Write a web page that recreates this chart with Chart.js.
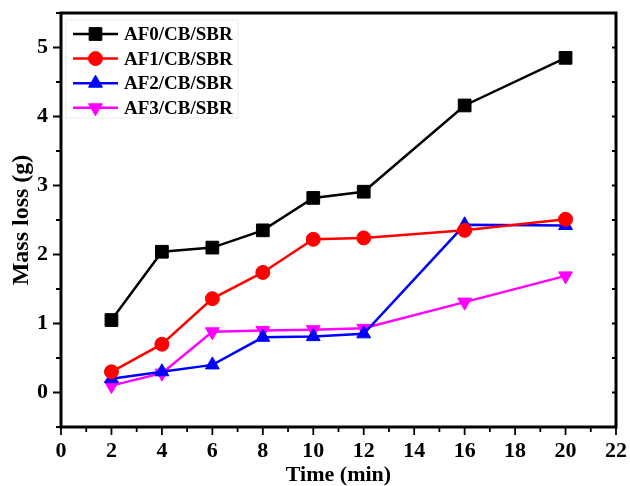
<!DOCTYPE html>
<html>
<head>
<meta charset="utf-8">
<script src="https://cdn.jsdelivr.net/npm/chart.js@4/dist/chart.umd.min.js"></script>
<style>
  html, body { margin: 0; padding: 0; background: #fff; }
  #wrap { width: 630px; height: 486px; }
</style>
</head>
<body>
<div id="wrap"><canvas id="chartCanvas" width="630" height="486"></canvas></div>
<script>
// time points (min)
var timeValues = [2, 4, 6, 8, 10, 12, 16, 20];
// mass loss (g) per sample
var af0Values = [1.05, 2.04, 2.10, 2.35, 2.82, 2.91, 4.16, 4.85];
var af1Values = [0.30, 0.70, 1.36, 1.74, 2.22, 2.24, 2.35, 2.51];
var af2Values = [0.20, 0.30, 0.40, 0.80, 0.81, 0.85, 2.43, 2.42];
var af3Values = [0.10, 0.28, 0.88, 0.90, 0.91, 0.93, 1.31, 1.69];
var seriesNames = ["AF0/CB/SBR", "AF1/CB/SBR", "AF2/CB/SBR", "AF3/CB/SBR"];
var xTickValues = [0, 2, 4, 6, 8, 10, 12, 14, 16, 18, 20, 22];
var yTickValues = [0, 1, 2, 3, 4, 5];

var serif = "'Liberation Serif', 'Times New Roman', serif";

function toPoints(values) {
    var pts = [];
    for (var i = 0; i < timeValues.length; i++) {
        pts.push({ x: timeValues[i], y: values[i] });
    }
    return pts;
}

function makeSet(name, values, color, style, rot, radius) {
    return {
        label: name,
        data: toPoints(values),
        borderColor: color,
        backgroundColor: color,
        borderWidth: 2.5,
        pointStyle: style,
        rotation: rot,
        pointRadius: radius,
        pointBorderWidth: 1,
        tension: 0
    };
}

//Plugin for the frame, tick marks and the legend box
var framePlugin = {
    id: "frame",
    afterDraw: function (chart) {
        var ctx = chart.ctx;
        var a = chart.chartArea;
        var xs = chart.scales.x;
        var ys = chart.scales.y;
        ctx.save();
        ctx.strokeStyle = "#000";
        ctx.lineWidth = 1.8;
        // x ticks (outward, bottom)
        for (var v = 0; v <= 22; v++) {
            var px = xs.getPixelForValue(v);
            var len = (v % 2 === 0) ? 8 : 5;
            ctx.beginPath();
            ctx.moveTo(px, a.bottom);
            ctx.lineTo(px, a.bottom + len);
            ctx.stroke();
        }
        // y ticks (outward on left, inward on right)
        for (var k = -0.5; k <= 5.5; k += 0.5) {
            var py = ys.getPixelForValue(k);
            var l2 = (k % 1 === 0) ? 8 : 5;
            ctx.beginPath();
            ctx.moveTo(a.left, py);
            ctx.lineTo(a.left - l2, py);
            ctx.moveTo(a.right, py);
            ctx.lineTo(a.right - 4, py);
            ctx.stroke();
        }
        // frame
        ctx.lineWidth = 3;
        ctx.strokeRect(a.left, a.top, a.right - a.left, a.bottom - a.top);

        // legend
        var lx = a.left + 5, ly = a.top + 7;
        ctx.lineWidth = 0.8;
        ctx.strokeStyle = "#e6e6e6";
        ctx.strokeRect(lx, ly, 172, 98);
        ctx.font = "bold 19px " + serif;
        ctx.textBaseline = "middle";
        ctx.textAlign = "left";
        chart.data.datasets.forEach(function (ds, i) {
            var rowY = ly + 14 + i * 24.6;
            ctx.strokeStyle = ds.borderColor;
            ctx.lineWidth = 2.5;
            ctx.beginPath();
            ctx.moveTo(lx + 7, rowY);
            ctx.lineTo(lx + 52, rowY);
            ctx.stroke();
            ctx.fillStyle = ds.backgroundColor;
            ctx.lineWidth = 1;
            Chart.helpers.drawPoint(ctx, {
                pointStyle: ds.pointStyle,
                rotation: ds.rotation,
                radius: ds.pointRadius,
                borderWidth: 1
            }, lx + 29.5, rowY);
            ctx.fillStyle = "#000";
            ctx.fillText(ds.label, lx + 58, rowY + 1);
        });
        ctx.restore();
    }
};

var canvasChart = document.getElementById("chartCanvas");
var datasets = [
    makeSet(seriesNames[0], af0Values, "#000000", "rect", 0, 9),
    makeSet(seriesNames[1], af1Values, "#ff0000", "circle", 0, 7),
    makeSet(seriesNames[2], af2Values, "#0000ff", "triangle", 0, 8),
    makeSet(seriesNames[3], af3Values, "#ff00ff", "triangle", 180, 8)
];

var mychart = new Chart(canvasChart, {
    type: "line",
    data: { datasets: datasets },
    plugins: [framePlugin],
    options: {
        responsive: false,
        animation: false,
        layout: { padding: { top: 13, right: 14, left: 0, bottom: 0 } },
        plugins: {
            legend: { display: false },
            tooltip: { enabled: false }
        },
        scales: {
            x: {
                type: "linear",
                min: 0,
                max: 22,
                afterBuildTicks: function (s) {
                    s.ticks = xTickValues.map(function (v) { return { value: v }; });
                },
                afterFit: function (s) {
                    s.height = 59;
                    s.paddingLeft = 0;
                    s.paddingRight = 0;
                },
                grid: { display: false, drawTicks: false },
                border: { display: false },
                ticks: {
                    color: "#000",
                    padding: 11,
                    maxRotation: 0,
                    font: { family: serif, size: 22, weight: "bold" }
                },
                title: {
                    display: true,
                    text: "Time (min)",
                    color: "#000",
                    padding: { top: 0, bottom: 0 },
                    font: { family: serif, size: 22, weight: "bold", lineHeight: 1 }
                }
            },
            y: {
                type: "linear",
                min: -0.5,
                max: 5.5,
                afterBuildTicks: function (s) {
                    s.ticks = yTickValues.map(function (v) { return { value: v }; });
                },
                afterFit: function (s) {
                    s.width = 61;
                    s.paddingTop = 0;
                    s.paddingBottom = 0;
                },
                grid: { display: false, drawTicks: false },
                border: { display: false },
                ticks: {
                    color: "#000",
                    padding: 13,
                    font: { family: serif, size: 22, weight: "bold" }
                },
                title: {
                    display: true,
                    text: "Mass loss (g)",
                    color: "#000",
                    padding: { top: 10, bottom: 0 },
                    font: { family: serif, size: 24, weight: "bold", lineHeight: 1 }
                }
            }
        }
    }
});
</script>
</body>
</html>
